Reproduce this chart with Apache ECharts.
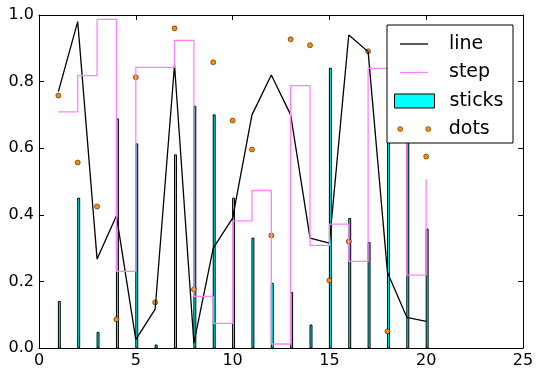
<!DOCTYPE html>
<html>
<head>
<meta charset="utf-8">
<script src="https://cdn.jsdelivr.net/npm/echarts@6/dist/echarts.min.js"></script>
<style>
  html, body { margin: 0; padding: 0; background: #fff; }
  #main { width: 543px; height: 378px; }
</style>
</head>
<body>
<div id="main"></div>
<script>
// data (x = 1..20)
var xs = [1, 2, 3, 4, 5, 6, 7, 8, 9, 10, 11, 12, 13, 14, 15, 16, 17, 18, 19, 20];
var lineVals = [0.77, 0.98, 0.267, 0.397, 0.025, 0.117, 0.85, 0.015, 0.30, 0.39,
                0.70, 0.82, 0.70, 0.33, 0.315, 0.94, 0.89, 0.227, 0.092, 0.08];
var stepVals = [0.709, 0.818, 0.987, 0.23, 0.843, 0.843, 0.924, 0.155, 0.074, 0.382,
                0.473, 0.012, 0.788, 0.308, 0.372, 0.26, 0.84, 0.8, 0.219, 0.507];
var stickVals = [0.14, 0.45, 0.047, 0.688, 0.613, 0.009, 0.58, 0.726, 0.70, 0.45,
                 0.33, 0.194, 0.167, 0.069, 0.84, 0.389, 0.317, 0.7, 0.75, 0.357];
var dotVals = [0.758, 0.557, 0.425, 0.086, 0.813, 0.137, 0.96, 0.176, 0.858, 0.683,
               0.596, 0.338, 0.927, 0.909, 0.203, 0.32, 0.891, 0.05, 0.8, 0.575];
var stickWidth = 0.1;

function pairs(vals) {
  var out = [];
  for (var i = 0; i < xs.length; i++) {
    out.push([xs[i], vals[i]]);
  }
  return out;
}

var font = 'DejaVu Sans';
var myChart = echarts.init(document.getElementById('main'));

function xAx(pos, show) {
  return {
    type: 'value', position: pos, min: 0, max: 25, interval: 5,
    axisLine: { show: true, onZero: false, lineStyle: { color: '#000', width: 1 } },
    axisTick: { show: true, inside: true, length: 5, lineStyle: { color: '#000' } },
    axisLabel: { show: show, color: '#000', fontFamily: font, fontSize: 16, margin: 5 },
    splitLine: { show: false }
  };
}
function yAx(pos, show) {
  return {
    type: 'value', position: pos, min: 0, max: 1, interval: 0.2,
    axisLine: { show: true, onZero: false, lineStyle: { color: '#000', width: 1 } },
    axisTick: { show: true, inside: true, length: 5, lineStyle: { color: '#000' } },
    axisLabel: {
      show: show, color: '#000', fontFamily: font, fontSize: 16, margin: 5,
      formatter: function (v) { return v.toFixed(1); }
    },
    splitLine: { show: false }
  };
}

function legendText(shift) {
  return { color: '#000', fontFamily: font, fontSize: 19, padding: [0, 0, 0, shift] };
}
var lineIcon = 'path://M0,0H28V1.3H0Z';

var option = {
  backgroundColor: '#fff',
  animation: false,
  grid: { left: 39, right: 20, top: 15, bottom: 30 },
  xAxis: [xAx('bottom', true), xAx('top', false)],
  yAxis: [yAx('left', true), yAx('right', false)],
  graphic: [{
    type: 'rect', z: 50,
    shape: { x: 387, y: 25, width: 126, height: 118 },
    style: { fill: '#fff', stroke: '#000', lineWidth: 1 }
  }],
  legend: [{
    z: 60, orient: 'vertical', left: 400, top: 34.5, padding: 0,
    itemWidth: 28, itemHeight: 14, itemGap: 9.5,
    textStyle: legendText(16),
    data: [{ name: 'line', icon: lineIcon }, { name: 'step', icon: lineIcon }]
  }, {
    z: 60, orient: 'vertical', left: 394, top: 91.5, padding: 0,
    itemWidth: 40, itemHeight: 14,
    itemStyle: { borderColor: '#000', borderWidth: 1 },
    textStyle: legendText(10),
    data: [{ name: 'sticks', icon: 'rect' }]
  }, {
    z: 60, orient: 'vertical', left: 397.5, top: 119.5, padding: 0,
    itemWidth: 33, itemHeight: 5,
    itemStyle: { color: '#ff8c00', borderColor: '#000', borderWidth: 0.4 },
    textStyle: legendText(13),
    data: [{
      name: 'dots',
      icon: 'path://M0,2.5a2.5,2.5 0 1,0 5,0a2.5,2.5 0 1,0 -5,0Z M28,2.5a2.5,2.5 0 1,0 5,0a2.5,2.5 0 1,0 -5,0Z'
    }]
  }],
  series: [{
    name: 'line', type: 'line', data: pairs(lineVals),
    symbol: 'none', color: '#000',
    lineStyle: { color: '#000', width: 1.3 }
  }, {
    name: 'step', type: 'line', step: 'end', data: pairs(stepVals),
    symbol: 'none', color: '#ff80ff',
    lineStyle: { color: '#ff80ff', width: 1.3 }
  }, {
    name: 'sticks', type: 'custom', data: pairs(stickVals),
    itemStyle: { color: '#00ffff', borderColor: '#000', borderWidth: 1 },
    renderItem: function (params, api) {
      var x = api.value(0), y = api.value(1);
      var p0 = api.coord([x, y]);
      var p1 = api.coord([x + stickWidth, 0]);
      return {
        type: 'rect',
        shape: { x: p0[0], y: p0[1], width: p1[0] - p0[0], height: p1[1] - p0[1] },
        style: { fill: '#00ffff', stroke: '#000', lineWidth: 1 }
      };
    }
  }, {
    name: 'dots', type: 'scatter', data: pairs(dotVals),
    symbolSize: 5,
    itemStyle: { color: '#ff8c00', borderColor: '#000', borderWidth: 0.5, opacity: 1 }
  }]
};
myChart.setOption(option);
</script>
</body>
</html>
